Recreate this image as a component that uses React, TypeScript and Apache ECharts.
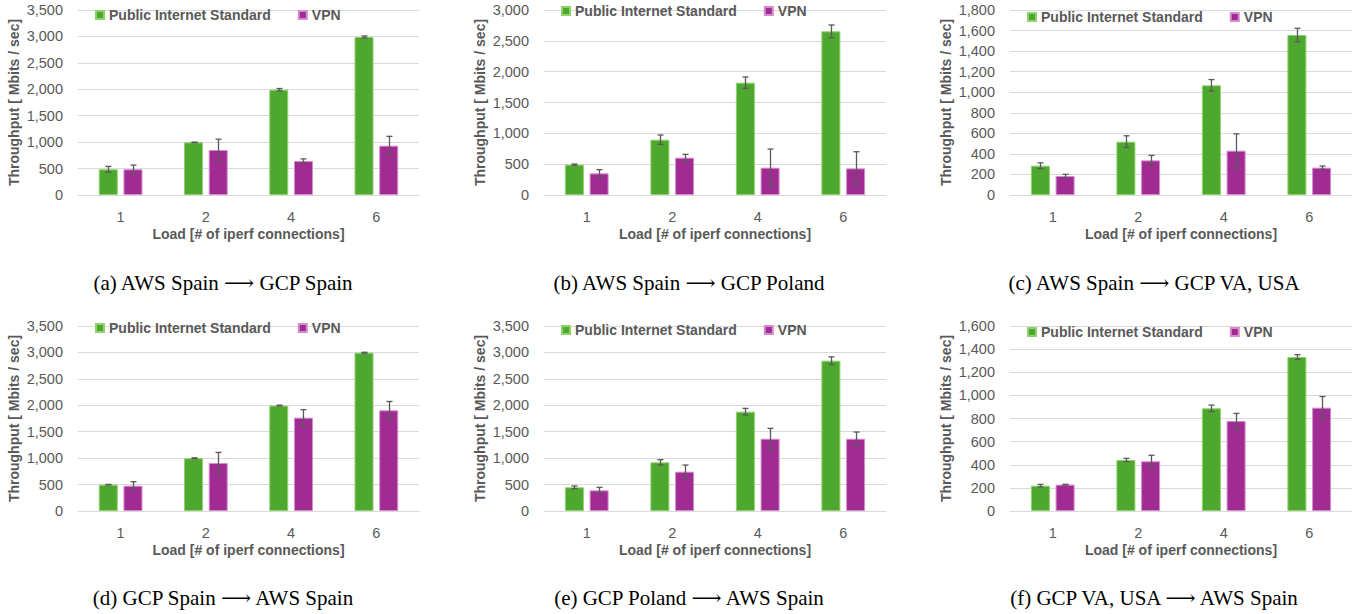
import React, { useEffect, useRef } from "react";
import * as echarts from "echarts";

const categories = ["1", "2", "4", "6"];
const seriesNames = ["Public Internet Standard", "VPN"];

// Panel (a) AWS Spain -> GCP Spain
const aPublic = [486, 996, 1993, 2989];
const aPublicErr = [55, 5, 22, 20];
const aVpn = [486, 851, 643, 933];
const aVpnErr = [80, 205, 40, 177];
// Panel (b) AWS Spain -> GCP Poland
const bPublic = [492, 897, 1822, 2654];
const bPublicErr = [10, 76, 92, 103];
const bVpn = [351, 605, 443, 432];
const bVpnErr = [60, 54, 302, 270];
// Panel (c) AWS Spain -> GCP VA, USA
const cPublic = [285, 519, 1067, 1557];
const cPublicErr = [28, 57, 56, 65];
const cVpn = [185, 337, 431, 266];
const cVpnErr = [16, 48, 164, 16];
// Panel (d) GCP Spain -> AWS Spain
const dPublic = [498, 998, 1995, 2995];
const dPublicErr = [5, 8, 8, 8];
const dVpn = [479, 908, 1766, 1905];
const dVpnErr = [75, 200, 152, 167];
// Panel (e) GCP Poland -> AWS Spain
const ePublic = [448, 921, 1879, 2844];
const ePublicErr = [25, 50, 63, 72];
const eVpn = [391, 744, 1368, 1368];
const eVpnErr = [57, 126, 195, 126];
// Panel (f) GCP VA, USA -> AWS Spain
const fPublic = [219, 441, 888, 1332];
const fPublicErr = [11, 14, 28, 20];
const fVpn = [228, 430, 778, 894];
const fVpnErr = [3, 52, 66, 96];

const yMax = [3500, 3000, 1800, 3500, 3500, 1600];
const yInterval = [500, 500, 200, 500, 500, 200];

const captions = [
  "(a) AWS Spain \u27F6 GCP Spain",
  "(b) AWS Spain \u27F6 GCP Poland",
  "(c) AWS Spain \u27F6 GCP VA, USA",
  "(d) GCP Spain \u27F6 AWS Spain",
  "(e) GCP Poland \u27F6 AWS Spain",
  "(f) GCP VA, USA \u27F6 AWS Spain",
];

const panels = [
  [aPublic, aPublicErr, aVpn, aVpnErr],
  [bPublic, bPublicErr, bVpn, bVpnErr],
  [cPublic, cPublicErr, cVpn, cVpnErr],
  [dPublic, dPublicErr, dVpn, dVpnErr],
  [ePublic, ePublicErr, eVpn, eVpnErr],
  [fPublic, fPublicErr, fVpn, fVpnErr],
];

const GREEN = "#4ea72e";
const PURPLE = "#a02b93";
const GRAY = "#595959";
const FONT = "'Liberation Sans', Arial, sans-serif";

const colLeft = [78, 544, 1010];
const colWidth = [341, 342, 342];
const rowTop = [10, 326];
const plotH = 185;
const BAR_W = 19;
const BAR_GAP = 0.3;

function buildOption() {
  const grid: any[] = [];
  const xAxis: any[] = [];
  const yAxis: any[] = [];
  const series: any[] = [];
  const legend: any[] = [];
  const graphic: any[] = [];
  const legendTopRow = [[8, 4, 10], [321, 323, 325]];

  panels.forEach((p, i) => {
    const r = Math.floor(i / 3);
    const c = i % 3;
    grid.push({ left: colLeft[c], top: rowTop[r], width: colWidth[c], height: plotH });
    xAxis.push({
      type: "category",
      gridIndex: i,
      data: categories,
      axisLine: { show: true, lineStyle: { color: "#d9d9d9", width: 1 } },
      axisTick: { show: false },
      axisLabel: { color: GRAY, fontSize: 14.5, fontFamily: FONT, margin: 14 },
      name: "Load [# of iperf connections]",
      nameLocation: "middle",
      nameGap: 32,
      nameTextStyle: { color: GRAY, fontSize: 14, fontWeight: "bold", fontFamily: FONT },
    });
    yAxis.push({
      type: "value",
      gridIndex: i,
      min: 0,
      max: yMax[i],
      interval: yInterval[i],
      axisLine: { show: false },
      axisTick: { show: false },
      splitLine: { lineStyle: { color: "#d9d9d9", width: 1 } },
      axisLabel: {
        color: GRAY,
        fontSize: 14.5,
        fontFamily: FONT,
        margin: 15,
        formatter: (v: number) => v.toLocaleString("en-US"),
      },
      name: "Throughput [ Mbits / sec]",
      nameLocation: "middle",
      nameGap: 57,
      nameTextStyle: { color: GRAY, fontSize: 14, fontWeight: "bold", fontFamily: FONT },
    });
    const [pub, pubErr, vpn, vpnErr] = p;
    series.push({
      name: seriesNames[0],
      type: "bar",
      xAxisIndex: i,
      yAxisIndex: i,
      data: pub,
      barWidth: BAR_W,
      barGap: BAR_GAP * 100 + "%",
      itemStyle: { color: GREEN, borderColor: "#8fd26c", borderWidth: 1 },
    });
    series.push({
      name: seriesNames[1],
      type: "bar",
      xAxisIndex: i,
      yAxisIndex: i,
      data: vpn,
      barWidth: BAR_W,
      barGap: BAR_GAP * 100 + "%",
      itemStyle: { color: PURPLE, borderColor: "#d58ccd", borderWidth: 1 },
    });
    [
      [pub, pubErr, -1],
      [vpn, vpnErr, 1],
    ].forEach(([vals, errs, side]: any) => {
      series.push({
        type: "custom",
        name: "err",
        xAxisIndex: i,
        yAxisIndex: i,
        z: 5,
        silent: true,
        data: vals.map((v: number, k: number) => [k, v - errs[k], v + errs[k]]),
        renderItem: (params: any, api: any) => {
          const x = api.value(0);
          const lo = api.coord([x, api.value(1)]);
          const hi = api.coord([x, api.value(2)]);
          const off = (side * (BAR_W + BAR_W * BAR_GAP)) / 2;
          const cx = Math.round(lo[0] + off) + 0.5;
          const style = { stroke: "#595959", lineWidth: 1.3 };
          return {
            type: "group",
            children: [
              { type: "line", shape: { x1: cx, y1: hi[1], x2: cx, y2: lo[1] }, style },
              { type: "line", shape: { x1: cx - 3, y1: hi[1], x2: cx + 3, y2: hi[1] }, style },
              { type: "line", shape: { x1: cx - 3, y1: lo[1], x2: cx + 3, y2: lo[1] }, style },
            ],
          };
        },
      });
    });
    legend.push({
      data: seriesNames,
      left: colLeft[c] + 17,
      top: legendTopRow[r][c],
      padding: 0,
      itemWidth: 8,
      itemHeight: 8,
      itemGap: 27,
      icon: "rect",
      selectedMode: false,
      textStyle: { color: GRAY, fontSize: 14, fontWeight: "bold", fontFamily: FONT },
    });
    const capCenter = [223, 689, 1154][c];
    graphic.push({
      type: "text",
      x: capCenter,
      y: [283, 598][r],
      style: {
        text: captions[i],
        fill: "#000",
        font: "21px 'Liberation Serif', 'DejaVu Serif', 'Times New Roman', serif",
        textAlign: "center",
        textVerticalAlign: "middle",
      },
    });
  });

  return { animation: false, grid, xAxis, yAxis, series, legend, graphic };
}

export default function App() {
  const ref = useRef<HTMLDivElement>(null);
  useEffect(() => {
    document.body.style.margin = "0";
    const chart = echarts.init(ref.current!, undefined, { renderer: "svg" });
    chart.setOption(buildOption() as any);
    return () => chart.dispose();
  }, []);
  return <div ref={ref} style={{ width: 1363, height: 614, background: "#fff" }} />;
}
